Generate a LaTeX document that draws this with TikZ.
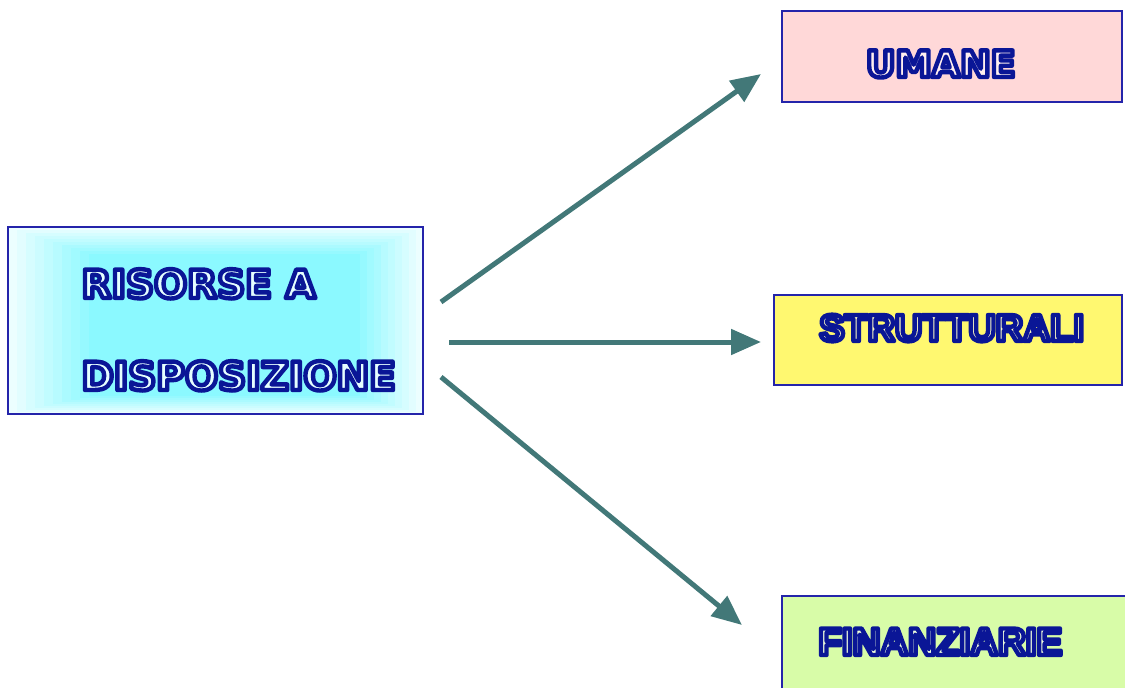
\documentclass[tikz,border=0pt]{standalone}
\usepackage{fontspec}
\setmainfont{Liberation Sans}
\newfontfamily\widefont{DejaVu Sans}
\usepackage{tikz}
\usetikzlibrary{arrows.meta}
\definecolor{frame}{RGB}{36, 36, 170}
\definecolor{ink}{RGB}{10, 22, 150}
\definecolor{arrowteal}{RGB}{66, 120, 120}
\definecolor{aqua}{RGB}{128, 248, 255}
\definecolor{rose}{RGB}{255, 216, 216}
\definecolor{lemon}{RGB}{255, 248, 112}
\definecolor{pistachio}{RGB}{216, 252, 168}
% letters filled with #1 and stroked in dark blue
\newcommand{\hollow}[2]{\textcolor{#1}{\special{pdf:literal direct 2 Tr 4.4 w 1 j 0.04 0.086 0.588 RG}#2\special{pdf:literal direct 0 Tr}}}

\begin{document}
\begin{tikzpicture}[x=1pt, y=-1pt, thick]
  \tikzset{
    box/.style={draw=frame, line width=2pt, inner sep=0pt},
    link/.style={draw=arrowteal, line width=5pt, -{Triangle[length=30pt, width=25pt]}},
    word/.style={anchor=base west, inner sep=0pt, font=\fontsize{#1}{40}\selectfont\bfseries},
    wideword/.style={word, font=\widefont\fontsize{#1}{40}\selectfont\bfseries}
  }
  \useasboundingbox (0, 0) rectangle (1125, 688);
  \clip (0, 0) rectangle (1125, 688);

  % soft cyan glow inside the source box
  \foreach \i [evaluate=\i as \pct using int(15 + 85 * \i)] in {0, 0.1,..., 1} {
    \fill[aqua!\pct!white]
      ({8 + 90 * \i}, {227 + 30 * \i}) rectangle ({423 - 70 * \i}, {414 - 20 * \i});
  }

  \node[box, minimum width=415pt, minimum height=187pt] (src) at (215.5, 320.5) {};
  \node[wideword=39] (src1) at (81, 298) {\hollow{aqua!20!white}{RISORSE A}};
  \node[wideword=39] (src2) at (81, 390) {\hollow{aqua!20!white}{DISPOSIZIONE}};

  \node[box, fill=rose, minimum width=340pt, minimum height=91pt] (umane) at (952, 56.5) {};
  \node[wideword=36.5] (umanetxt) at (865.5, 77) {\hollow{rose!40!white}{UMANE}};

  \node[box, fill=lemon, minimum width=348pt, minimum height=90pt] (strut) at (948, 340) {};
  \node[word=37.8] (struttxt) at (819, 341) {\hollow{lemon!40!white}{STRUTTURALI}};

  \node[box, fill=pistachio, minimum width=353pt, minimum height=102pt] (fin) at (958.5, 647) {};
  \node[word=38.5] (fintxt) at (818, 655) {\hollow{pistachio!40!white}{FINANZIARIE}};

  \draw[link] ([xshift=17pt, yshift=18.5pt]src.east) -- ([xshift=-20pt, yshift=-17.5pt]umane.west);
  \draw[link] ([xshift=25pt, yshift=-21.5pt]src.east) -- ([xshift=-12pt, yshift=-2pt]strut.west);
  \draw[link] ([xshift=17pt, yshift=-56.5pt]src.east) -- ([xshift=-39pt, yshift=22pt]fin.west);

\end{tikzpicture}
\end{document}
